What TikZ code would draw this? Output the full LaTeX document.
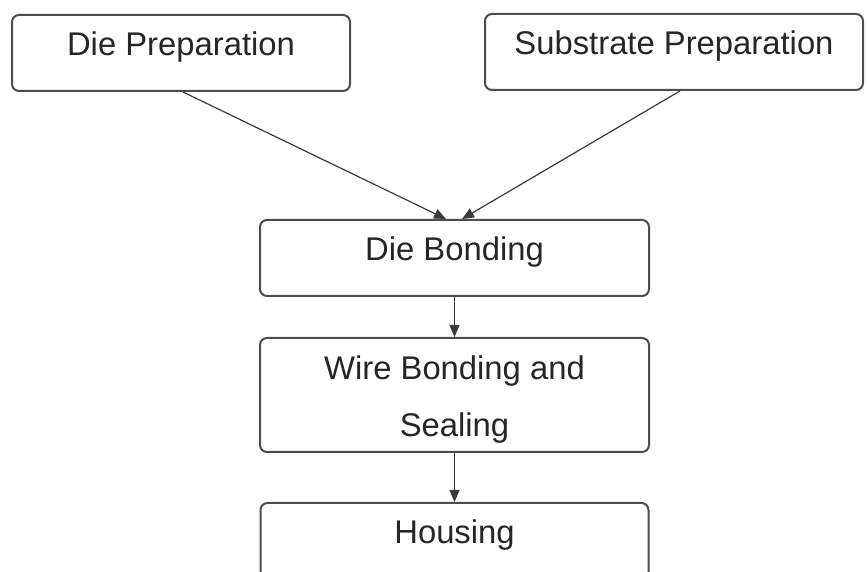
\documentclass[tikz,border=0pt]{standalone}
\usepackage{fontspec}
\setmainfont{Liberation Sans}
\usetikzlibrary{arrows.meta}
\definecolor{boxline}{HTML}{4D4D4D}
\definecolor{arrowline}{HTML}{3A3A3A}
\definecolor{labeltext}{HTML}{262626}

\begin{document}
\begin{tikzpicture}[x=0.5pt, y=0.5pt,
    stage/.style={rectangle, draw=boxline, line width=1pt, rounded corners=3.5pt,
        text=labeltext, font=\fontsize{16.4}{28.5}\selectfont, inner sep=0pt,
        minimum height=38pt},
    oneline/.style={text height=11.7pt, text depth=9pt},
    flow/.style={draw=arrowline, line width=0.6pt, -{Triangle[length=6pt,width=5pt]}}]
                \useasboundingbox (0,0) rectangle (867,572);

                \node (prep) at (181,519) [stage, oneline, minimum width=169pt] {Die Preparation};
                \node (subst) at (674,520) [stage, oneline, minimum width=189pt] {Substrate Preparation};

                \node (bond) at (454.5,314) [stage, oneline, minimum width=194.5pt] {Die Bonding};
                \node (wire) at (454.5,177) [stage, align=center, text height=42pt, text depth=0pt,
                    minimum width=194.5pt, minimum height=57pt] {Wire Bonding and\\Sealing};
                \node (house) at (454.5,31) [stage, oneline, minimum width=194pt] {Housing};

                \draw[flow] ([xshift=1pt]prep.south) -- ([xshift=-4.25pt]bond.north);
                \draw[flow] ([xshift=3pt]subst.south) -- ([xshift=3.75pt]bond.north);
                \draw[flow] (bond) -- (wire);
                \draw[flow] (wire) -- (house);
            \end{tikzpicture}
\end{document}
